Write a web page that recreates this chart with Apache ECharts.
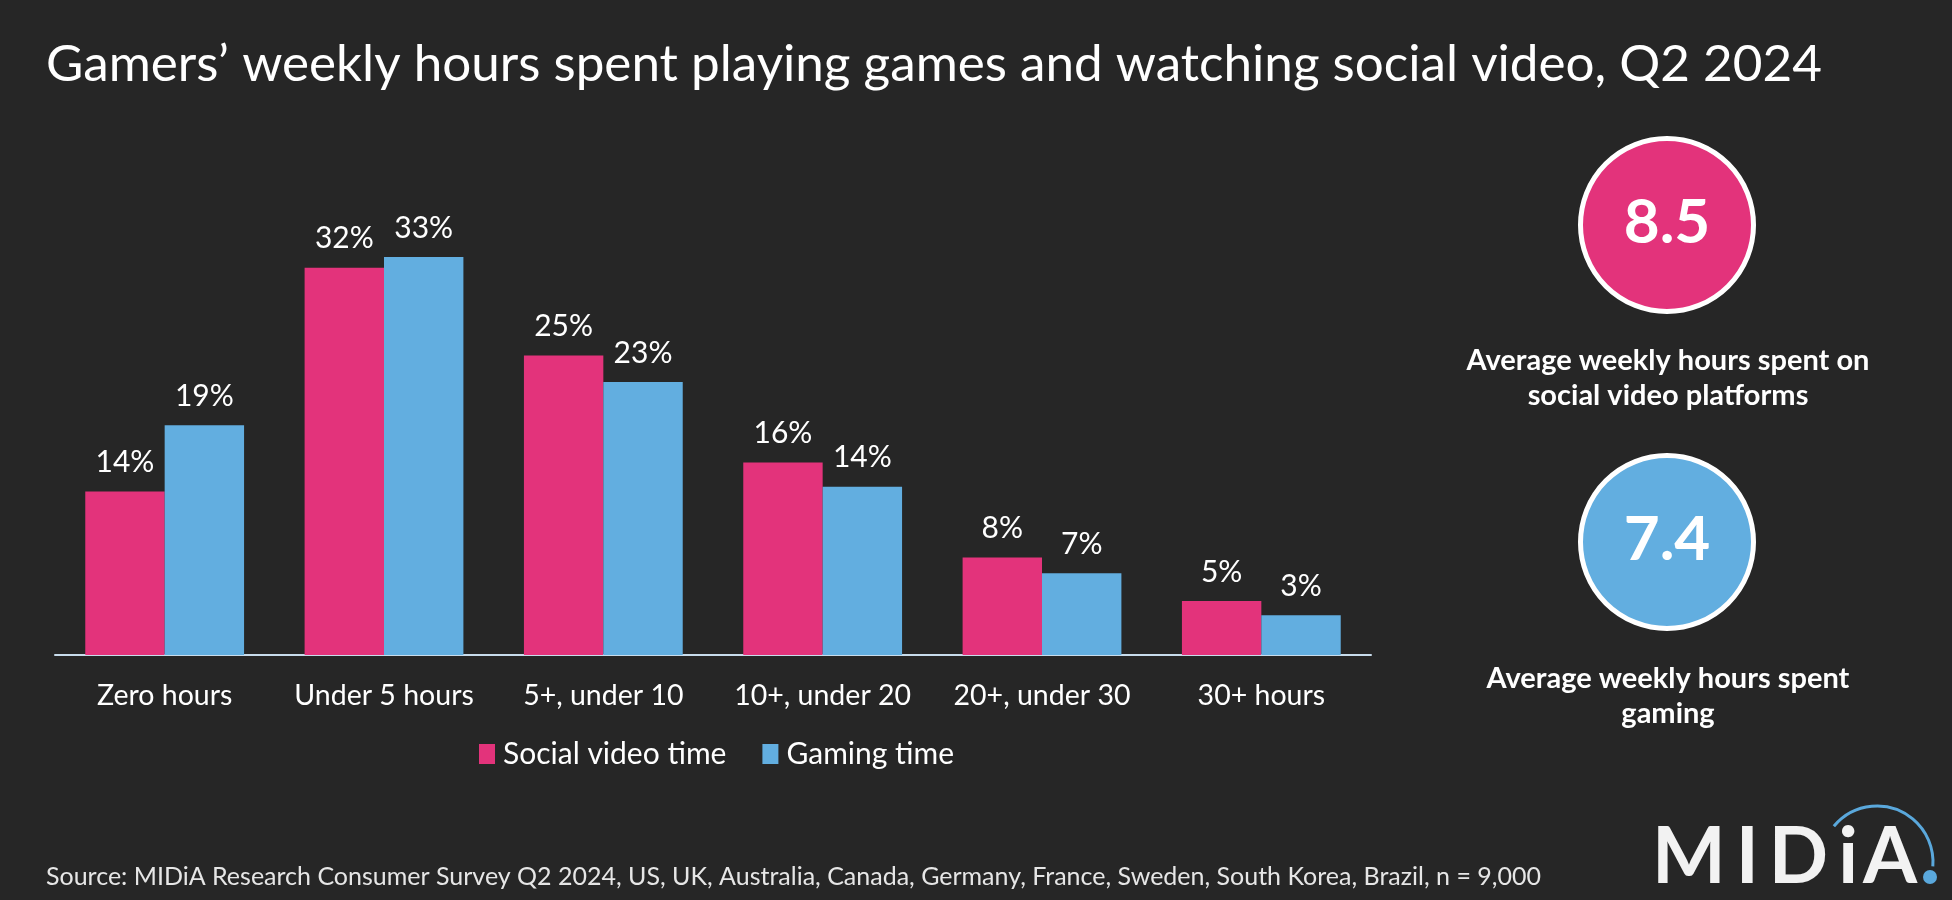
<!DOCTYPE html>
<html>
<head>
<meta charset="utf-8">
<script src="https://cdn.jsdelivr.net/npm/echarts@6/dist/echarts.min.js"></script>
<style>
  html, body { margin: 0; padding: 0; background: #262626; }
  #chart { width: 1952px; height: 900px; }
</style>
</head>
<body>
<div id="chart"></div>
<script>
const titleText = 'Gamers\u2019 weekly hours spent playing games and watching social video, Q2 2024';
const categories = ['Zero hours', 'Under 5 hours', '5+, under 10', '10+, under 20', '20+, under 30', '30+ hours'];
const seriesNames = ['Social video time', 'Gaming time'];
const socialVideo = [13.6, 32.2, 24.9, 16.0, 8.1, 4.5];
const gaming = [19.1, 33.1, 22.7, 14.0, 6.8, 3.3];
const kpiValues = ['8.5', '7.4'];
const kpiCaptions = ['Average weekly hours spent on\nsocial video platforms', 'Average weekly hours spent\ngaming'];
const sourceText = 'Source: MIDiA Research Consumer Survey Q2 2024, US, UK, Australia, Canada, Germany, France, Sweden, South Korea, Brazil, n = 9,000';

const PINK = '#E3337B';
const BLUE = '#62AEE0';
const FONT = 'Lato, "Noto Sans", sans-serif';

const chart = echarts.init(document.getElementById('chart'), null, { renderer: 'canvas' });

const labelCfg = {
  show: true,
  position: 'top',
  distance: 14,
  color: '#ffffff',
  fontFamily: FONT,
  fontSize: 30,
  formatter: p => Math.round(p.value) + '%'
};

chart.setOption({
  backgroundColor: '#262626',
  animation: false,
  textStyle: { fontFamily: FONT },
  grid: { left: 55, right: 581, top: 174, bottom: 245, containLabel: false },
  xAxis: {
    type: 'category',
    data: categories,
    axisLine: { show: true, lineStyle: { color: '#C8DCEC', width: 2 } },
    axisTick: { show: false },
    axisLabel: { color: '#ffffff', fontSize: 28.5, fontFamily: FONT, margin: 26, interval: 0 }
  },
  yAxis: {
    type: 'value', min: 0, max: 40, show: false,
    splitLine: { show: false }
  },
  legend: {
    data: seriesNames,
    left: 474,
    top: 734,
    icon: 'rect',
    itemWidth: 16,
    itemHeight: 20,
    itemGap: 36,
    textStyle: { color: '#ffffff', fontSize: 30, fontFamily: FONT, padding: [0, 0, 0, 3] }
  },
  series: [
    {
      name: seriesNames[0], type: 'bar', data: socialVideo,
      barWidth: 79.4, barGap: '0%',
      itemStyle: { color: PINK },
      label: labelCfg
    },
    {
      name: seriesNames[1], type: 'bar', data: gaming,
      barWidth: 79.4, barGap: '0%',
      itemStyle: { color: BLUE },
      label: labelCfg
    }
  ],
  graphic: [
    {
      type: 'text', left: 46, top: 39,
      style: { text: titleText, fill: '#ffffff', font: '51.2px ' + FONT }
    },
    {
      type: 'circle', shape: { cx: 1667, cy: 225, r: 86.5 },
      style: { fill: PINK, stroke: '#ffffff', lineWidth: 5 }
    },
    {
      type: 'text', x: 1667, y: 223,
      style: { text: kpiValues[0], fill: '#ffffff', font: 'bold 62px ' + FONT, align: 'center', verticalAlign: 'middle' }
    },
    {
      type: 'text', x: 1668, y: 378,
      style: { text: kpiCaptions[0], fill: '#ffffff', font: 'bold 29px ' + FONT, align: 'center', verticalAlign: 'middle', lineHeight: 35 }
    },
    {
      type: 'circle', shape: { cx: 1667, cy: 542, r: 86.5 },
      style: { fill: BLUE, stroke: '#ffffff', lineWidth: 5 }
    },
    {
      type: 'text', x: 1667, y: 540,
      style: { text: kpiValues[1], fill: '#ffffff', font: 'bold 62px ' + FONT, align: 'center', verticalAlign: 'middle' }
    },
    {
      type: 'text', x: 1668, y: 696,
      style: { text: kpiCaptions[1], fill: '#ffffff', font: 'bold 29px ' + FONT, align: 'center', verticalAlign: 'middle', lineHeight: 35 }
    },
    {
      type: 'text', x: 46, y: 877,
      style: { text: sourceText, fill: '#E6E6E6', font: '25px ' + FONT, align: 'left', verticalAlign: 'middle' }
    },
    {
      type: 'text', x: 1652, y: 858,
      style: {
        text: '{a|M}{a|I}{a|D}{b|i}{c|A}',
        align: 'left', verticalAlign: 'middle',
        rich: {
          a: { fill: '#F2F2F2', font: 'bold 78px ' + FONT, padding: [0, 10, 0, 0] },
          b: { fill: '#F2F2F2', font: 'bold 78px ' + FONT, padding: [0, 5, 0, 0] },
          c: { fill: '#F2F2F2', font: 'bold 78px ' + FONT }
        }
      }
    },
    {
      type: 'arc', shape: { cx: 1877, cy: 862, r: 56, startAngle: -2.45, endAngle: 0.08, clockwise: true },
      style: { stroke: '#5AA8DC', lineWidth: 3, fill: null }
    },
    {
      type: 'circle', shape: { cx: 1930, cy: 877, r: 7 },
      style: { fill: '#5AA8DC' }
    }
  ]
});
</script>
</body>
</html>
